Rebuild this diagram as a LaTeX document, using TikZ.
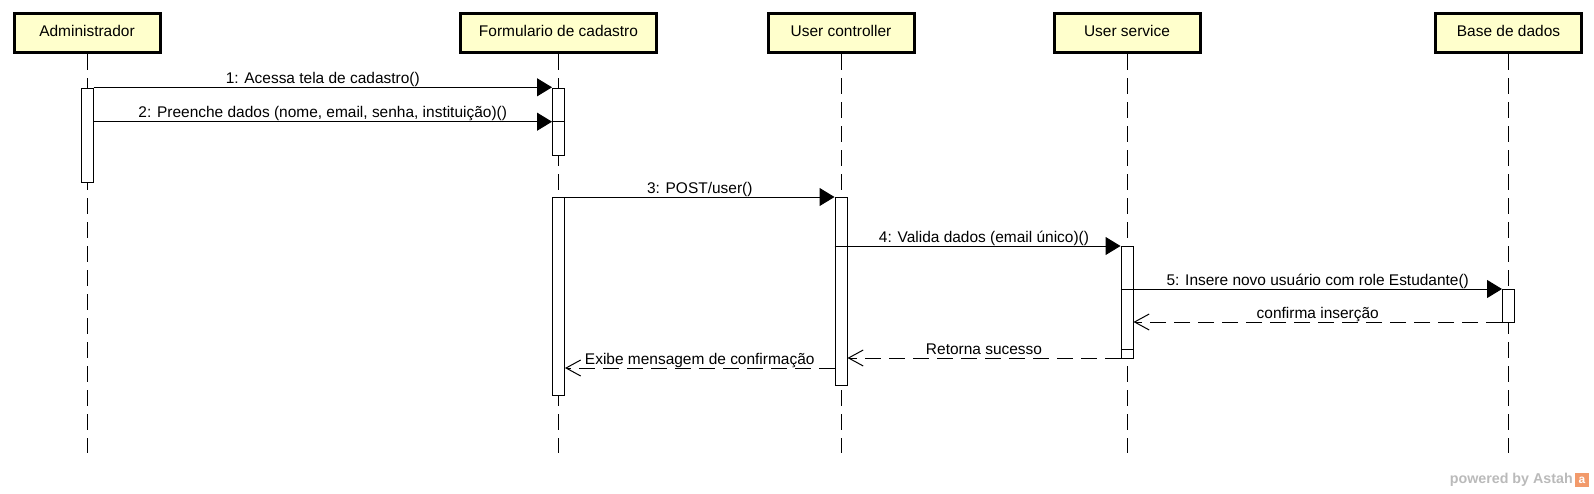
\documentclass[tikz,border=0pt]{standalone}
\usepackage{fontspec}
\setmainfont{Liberation Sans}
\usepackage{tikz}
\usetikzlibrary{positioning, arrows.meta}

\definecolor{lifebox}{HTML}{FFFFCC}
\definecolor{astahorange}{HTML}{F29A6B}

\tikzset{
	actor/.style={draw, line width=2.25pt, fill=lifebox, minimum width=109.5pt, minimum height=29.25pt, text depth=3.8pt, font=\fontsize{11.6}{14}\selectfont},
	life/.style={line width=0.75pt, dash pattern=on 12pt off 6pt},
	bar/.style={draw, fill=white, line width=0.75pt, minimum width=9pt, inner sep=0pt},
	call/.style={line width=0.75pt, -{Triangle[length=11.25pt, width=13.5pt]}},
	reply/.style={line width=0.75pt, dash pattern=on 12pt off 6pt, -{Straight Barb[length=11pt, width=12pt]}},
	msg/.style={anchor=base, yshift=3pt, inner sep=0pt, font=\fontsize{11.6}{14}\selectfont}
}

\begin{document}
\begin{tikzpicture}[x=0.75pt, y=-0.75pt]
		\useasboundingbox (0,0) rectangle (1594,493);
		
		\node[actor] (admin) at (87,33.4) {Administrador};
		\node[actor, minimum width=146.5pt] (form) at (558.5,33.4) {Formulario de cadastro};
		\node[actor] (ctrl) at (841,33.4) {User controller};
		\node[actor] (serv) at (1127,33.4) {User service};
		\node[actor] (db) at (1508.5,33.4) {Base de dados};
		
		\coordinate (admin-end) at (admin |- 0,453);
		\coordinate (form-end) at (form |- 0,453);
		\coordinate (ctrl-end) at (ctrl |- 0,453);
		\coordinate (serv-end) at (serv |- 0,453);
		\coordinate (db-end) at (db |- 0,453);
		
		\draw[life] (admin) -- (admin-end);
		\draw[life] (form) -- (form-end);
		\draw[life] (ctrl) -- (ctrl-end);
		\draw[life] (serv) -- (serv-end);
		\draw[life] (db) -- (db-end);
		
		\node[bar, minimum height=70.5pt] (act-admin) at (admin |- 0,135) {};
		\node[bar, minimum height=50.25pt] (act-form1) at (form |- 0,121.5) {};
		\node[bar, minimum height=148.5pt] (act-form2) at (form |- 0,296) {};
		\node[bar, minimum height=141pt] (act-ctrl) at (ctrl |- 0,291) {};
		\node[bar, minimum height=84pt] (act-serv) at (serv |- 0,302) {};
		\node[bar, minimum height=24.75pt] (act-db) at (db |- 0,305.5) {};
		
		\draw[line width=0.75pt] (act-form1.west |- 0,121.7) -- (act-form1.east |- 0,121.7);
		\draw[line width=0.75pt] (act-ctrl.west |- 0,246) -- (act-ctrl.east |- 0,246);
		\draw[line width=0.75pt] (act-serv.west |- 0,289) -- (act-serv.east |- 0,289);
		\draw[line width=0.75pt] (act-serv.west |- 0,349.5) -- (act-serv.east |- 0,349.5);
		
		\draw[call] (act-admin.east |- 0,87.3) -- node[msg]{1: Acessa tela de cadastro()} (act-form1.west |- 0,87.3);
		\draw[call] (act-admin.east |- 0,121.7) -- node[msg]{2: Preenche dados (nome, email, senha, instituição)()} (act-form1.west |- 0,121.7);
		\draw[call] (act-form2.east |- 0,197) -- node[msg]{3: POST/user()} (act-ctrl.west |- 0,197);
		\draw[call] (act-ctrl.east |- 0,246) -- node[msg]{4: Valida dados (email único)()} (act-serv.west |- 0,246);
		\draw[call] (act-serv.east |- 0,289) -- node[msg]{5: Insere novo usuário com role Estudante()} (act-db.west |- 0,289);
		\draw[reply] (act-db.west |- 0,322) -- node[msg]{confirma inserção} (act-serv.east |- 0,322);
		\draw[reply] (act-serv.west |- 0,358) -- node[msg]{Retorna sucesso} (act-ctrl.east |- 0,358);
		\draw[reply] (act-ctrl.west |- 0,368) -- node[msg]{Exibe mensagem de confirmação} (act-form2.east |- 0,368);
		
		\node[anchor=east, inner sep=0pt, text=black!27, font=\bfseries\fontsize{10.7}{12}\selectfont] (powered) at (1573,480) {powered by Astah};
		\node[right=1pt of powered, fill=astahorange, text=white, inner sep=0pt, minimum width=11pt, minimum height=10.5pt, font=\bfseries\fontsize{9}{9}\selectfont] (logo) {a};
	\end{tikzpicture}
\end{document}
